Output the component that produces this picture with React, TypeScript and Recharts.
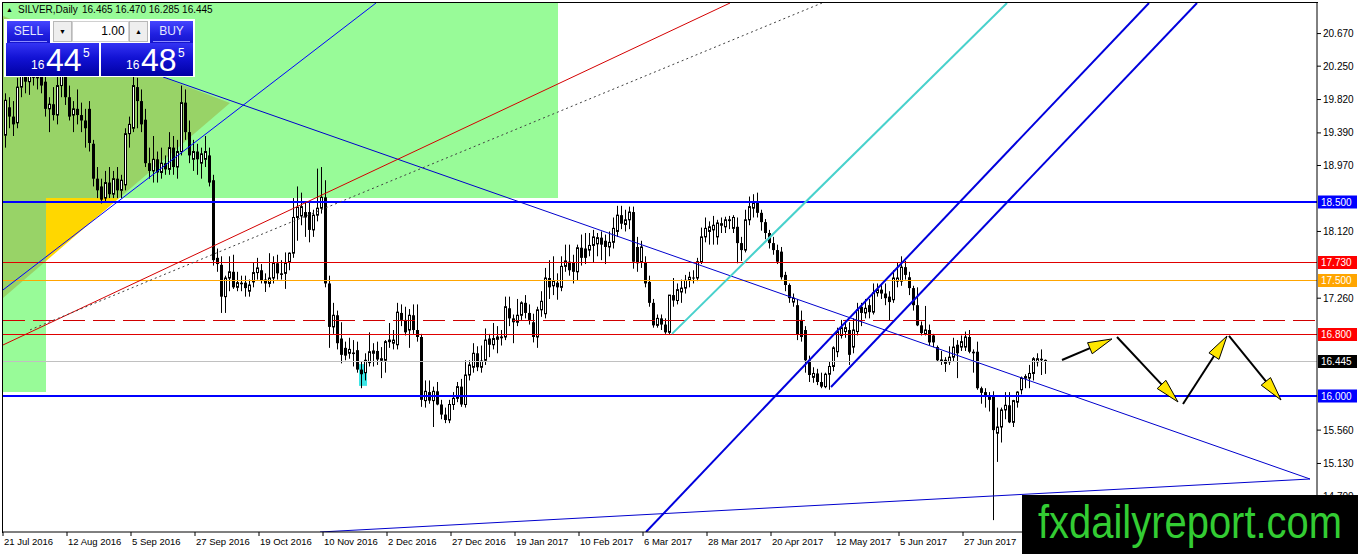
import React from 'react';
import { ComposedChart, Bar, XAxis, YAxis, ReferenceLine, ReferenceArea } from 'recharts';

// ---------- candle data (SILVER daily) ----------
const OPEN = [
  19.36,19.72,19.60,19.52,19.98,20.20,20.05,20.25,20.10,20.20,
  20.05,19.70,19.76,19.62,20.00,20.15,19.85,19.62,19.70,19.62,
  19.55,19.70,19.25,18.80,18.70,18.55,18.75,18.60,18.80,18.65,
  18.72,19.38,19.45,19.98,19.80,19.56,19.00,18.90,19.05,18.88,
  19.00,18.92,19.20,18.95,19.15,19.78,19.40,19.05,19.15,19.00,
  19.05,19.10,18.78,17.78,17.69,17.28,17.52,17.60,17.40,17.46,
  17.46,17.35,17.47,17.59,17.62,17.50,17.45,17.52,17.71,17.58,
  17.58,17.72,17.84,18.30,18.32,18.37,18.37,18.14,18.33,18.42,
  18.56,17.45,16.89,17.04,16.74,16.62,16.55,16.56,16.59,16.34,
  16.30,16.43,16.55,16.58,16.46,16.46,16.70,16.68,16.66,17.07,
  16.98,16.85,17.04,16.85,16.76,15.94,16.05,15.94,16.06,15.89,
  15.76,15.69,15.89,15.97,16.12,15.89,16.27,16.37,16.55,16.37,
  16.46,16.74,16.66,16.73,16.75,16.76,17.13,17.00,16.95,17.04,
  17.20,17.07,16.95,16.76,17.11,17.06,17.52,17.42,17.46,17.40,
  17.67,17.73,17.72,17.60,17.91,17.90,17.88,17.94,17.96,18.04,
  18.00,17.92,17.98,18.12,18.33,18.21,18.27,18.37,17.92,17.72,
  17.72,17.47,17.20,16.91,17.00,16.92,16.82,17.30,17.23,17.34,
  17.39,17.49,17.52,17.52,17.73,18.05,18.12,18.14,18.05,18.20,
  18.18,18.26,18.16,18.18,17.97,17.88,18.27,18.42,18.49,18.36,
  18.24,18.10,17.97,17.88,17.86,17.56,17.43,17.21,17.17,16.98,
  16.85,16.46,16.24,16.29,16.18,16.12,16.28,16.38,16.57,16.78,
  16.83,16.85,16.63,16.83,17.15,17.07,17.17,17.08,17.33,17.37,
  17.32,17.28,17.24,17.48,17.48,17.66,17.53,17.39,17.17,16.91,
  16.80,16.85,16.78,16.63,16.47,16.42,16.44,16.50,16.66,16.63,
  16.63,16.76,16.57,16.57,16.10,16.05,16.00,16.00,15.52,15.60,
  15.82,15.88,15.66,15.92,16.08,16.23,16.23,16.29,16.44,16.48,
  16.465,
];
const HIGH = [
  19.90,19.85,19.80,20.10,20.40,20.45,20.35,20.50,20.30,20.45,
  20.30,19.85,19.98,20.20,20.30,20.35,20.00,19.80,19.95,19.78,
  19.70,19.80,19.30,18.95,18.80,18.90,18.95,18.90,18.95,18.85,
  19.45,19.60,20.20,20.10,19.95,19.70,19.20,19.35,19.15,19.20,
  19.10,19.40,19.35,19.30,20.00,19.95,19.55,19.30,19.25,19.20,
  19.35,19.20,18.85,17.90,17.80,17.55,17.80,17.82,17.60,17.55,
  17.55,17.50,17.72,17.78,17.70,17.58,17.84,17.80,17.82,17.75,
  17.85,17.85,18.55,18.70,18.62,18.50,18.50,18.40,18.93,18.95,
  18.78,17.55,17.20,17.10,16.95,16.70,16.75,16.72,16.70,16.45,
  16.55,16.82,16.68,16.70,16.63,16.72,16.94,16.85,17.20,17.18,
  17.15,17.12,17.18,17.18,16.80,16.20,16.20,16.12,16.18,15.95,
  15.85,15.95,16.05,16.18,16.22,16.46,16.46,16.68,16.64,16.65,
  16.87,16.80,16.94,16.90,16.85,17.28,17.28,17.05,17.25,17.22,
  17.30,17.18,17.06,17.15,17.35,17.65,17.75,17.80,17.58,17.80,
  17.95,17.95,17.82,17.95,18.08,18.10,18.10,18.14,18.10,18.12,
  18.08,18.12,18.30,18.45,18.45,18.40,18.44,18.44,18.05,18.00,
  17.80,17.55,17.25,17.05,17.05,17.00,17.30,17.52,17.45,17.50,
  17.56,17.60,17.62,17.78,18.17,18.30,18.25,18.32,18.27,18.30,
  18.31,18.32,18.33,18.30,18.05,18.40,18.57,18.60,18.62,18.40,
  18.28,18.14,18.05,17.95,17.92,17.60,17.45,17.32,17.25,17.10,
  16.90,16.52,16.37,16.35,16.30,16.30,16.45,16.64,16.88,16.98,
  16.98,16.95,17.00,17.20,17.20,17.25,17.25,17.45,17.45,17.45,
  17.45,17.35,17.62,17.72,17.80,17.74,17.60,17.42,17.40,16.96,
  17.16,16.92,16.80,16.65,16.58,16.50,16.64,16.75,16.72,16.78,
  16.83,16.85,16.60,16.70,16.12,16.10,16.05,16.06,15.85,15.85,
  16.05,16.05,15.95,16.06,16.25,16.28,16.40,16.50,16.55,16.60,
  16.47,
];
const LOW = [
  19.20,19.45,19.35,19.45,19.85,19.90,19.88,20.00,19.95,19.90,
  19.60,19.40,19.55,19.50,19.85,19.75,19.55,19.40,19.50,19.40,
  19.20,19.15,18.70,18.55,18.48,18.50,18.55,18.55,18.55,18.55,
  18.65,19.20,19.40,19.45,19.40,18.95,18.80,18.75,18.75,18.80,
  18.85,18.85,18.85,18.80,19.10,19.30,19.00,18.90,18.85,18.80,
  18.95,18.70,17.68,17.60,17.07,17.07,17.35,17.38,17.35,17.35,
  17.28,17.28,17.40,17.50,17.45,17.34,17.40,17.45,17.50,17.50,
  17.38,17.62,17.78,18.00,18.20,18.05,17.98,18.05,18.25,18.35,
  17.40,16.62,16.80,16.60,16.42,16.46,16.48,16.38,16.30,16.10,
  16.20,16.38,16.38,16.40,16.23,16.30,16.62,16.60,16.60,16.90,
  16.78,16.62,16.80,16.70,15.86,15.85,15.90,15.60,15.88,15.70,
  15.65,15.65,15.82,15.92,15.86,15.85,16.20,16.30,16.32,16.30,
  16.40,16.50,16.60,16.55,16.65,16.72,16.90,16.68,16.90,16.98,
  17.00,16.92,16.69,16.62,17.02,17.00,17.25,17.30,17.24,17.35,
  17.60,17.55,17.45,17.49,17.68,17.70,17.80,17.72,17.80,17.75,
  17.70,17.80,17.90,18.05,18.15,18.12,18.15,17.64,17.60,17.65,
  17.40,17.15,16.88,16.88,16.85,16.80,16.79,17.15,17.18,17.20,
  17.32,17.40,17.45,17.48,17.70,17.98,17.95,17.95,17.95,18.10,
  18.10,18.15,18.10,17.71,17.74,17.85,18.20,18.30,18.30,18.13,
  18.02,17.90,17.82,17.70,17.50,17.35,17.20,17.15,16.72,16.70,
  16.30,16.18,16.17,16.14,16.10,16.10,16.08,16.32,16.50,16.74,
  16.75,16.40,16.55,16.78,16.90,17.00,17.00,17.05,17.28,17.25,
  17.17,16.97,17.20,17.40,17.42,17.50,17.30,17.10,16.90,16.78,
  16.78,16.65,16.63,16.44,16.40,16.31,16.40,16.45,16.23,16.58,
  16.58,16.55,16.30,16.08,15.90,15.85,15.80,14.40,15.15,15.40,
  15.70,15.65,15.60,15.85,16.02,16.10,16.10,16.20,16.38,16.27,
  16.285,
];
const CLOSE = [
  19.81,19.60,19.50,19.98,20.20,20.05,20.25,20.10,20.20,20.00,
  19.70,19.76,19.62,20.00,20.15,19.85,19.60,19.70,19.62,19.55,
  19.45,19.26,18.80,18.65,18.53,18.75,18.60,18.80,18.65,18.78,
  19.38,19.50,20.00,19.80,19.50,19.00,18.90,19.05,18.88,19.00,
  18.92,19.20,18.95,19.15,19.78,19.40,19.10,19.15,19.05,19.12,
  19.15,18.75,17.75,17.70,17.28,17.52,17.60,17.40,17.46,17.44,
  17.39,17.43,17.59,17.65,17.49,17.45,17.52,17.71,17.58,17.56,
  17.71,17.84,18.30,18.43,18.44,18.30,18.14,18.33,18.42,18.56,
  17.45,16.89,17.04,16.68,16.53,16.52,16.60,16.54,16.34,16.28,
  16.46,16.57,16.58,16.47,16.48,16.70,16.72,16.72,17.08,16.98,
  16.82,17.04,16.85,16.76,15.95,16.06,15.94,16.06,15.89,15.76,
  15.69,15.89,15.97,16.12,15.89,16.27,16.40,16.55,16.37,16.45,
  16.72,16.66,16.74,16.76,16.76,17.15,17.00,16.95,17.04,17.20,
  17.07,16.98,16.76,17.11,17.22,17.52,17.40,17.48,17.40,17.67,
  17.74,17.62,17.60,17.91,17.78,17.78,17.94,18.05,18.04,17.95,
  17.92,17.98,18.16,18.33,18.22,18.27,18.37,17.73,17.71,17.92,
  17.45,17.20,16.91,17.00,16.92,16.82,17.30,17.23,17.37,17.39,
  17.49,17.53,17.52,17.73,18.05,18.16,18.18,18.20,18.23,18.22,
  18.27,18.27,18.30,17.97,17.88,18.27,18.44,18.49,18.36,18.24,
  18.10,17.97,17.88,17.73,17.53,17.43,17.26,17.26,16.79,16.76,
  16.46,16.27,16.29,16.18,16.12,16.28,16.38,16.62,16.83,16.88,
  16.88,16.53,16.85,17.11,17.07,17.13,17.08,17.33,17.37,17.32,
  17.26,17.21,17.52,17.52,17.66,17.56,17.39,17.17,16.91,16.81,
  16.85,16.69,16.69,16.46,16.44,16.46,16.50,16.63,16.55,16.70,
  16.76,16.57,16.55,16.10,16.04,15.99,15.95,15.56,15.60,15.82,
  15.88,15.66,15.94,16.05,16.23,16.25,16.29,16.48,16.48,16.46,
  16.445,
];

// ---------- axes ----------
const DATE_LABELS = [
  '21 Jul 2016', '12 Aug 2016', '5 Sep 2016', '27 Sep 2016', '19 Oct 2016', '10 Nov 2016',
  '2 Dec 2016', '27 Dec 2016', '19 Jan 2017', '10 Feb 2017', '6 Mar 2017', '28 Mar 2017',
  '20 Apr 2017', '12 May 2017', '5 Jun 2017', '27 Jun 2017',
];
const DATE_TICK_INDEX = [-0.5, 15.5, 31.5, 47.5, 63.5, 79.5, 95.5, 111.5, 127.5, 143.5, 159.5, 175.5, 191.5, 207.5, 223.5, 239.5];
const PRICE_TICKS = [20.67, 20.25, 19.82, 19.39, 18.97, 18.12, 17.26, 15.56, 15.13, 14.7];
const PRICE_DOMAIN = [14.247, 21.064];
const INDEX_DOMAIN = [-0.5, 328];

// ---------- horizontal levels ----------
const LEVEL_PRICES = [18.5, 17.73, 17.5, 16.98, 16.8, 16.445, 16.0];
const LEVEL_TAGS = ['18.500', '17.730', '17.500', '', '16.800', '16.445', '16.000'];

// ---------- trendlines (bar index, price) ----------
const RISING_THIN = [{ x: -0.5, y: 17.366 }, { x: 92.75, y: 21.064 }];
const FALLING_THIN = [{ x: 39.5, y: 20.111 }, { x: 326.25, y: 14.93 }];
const BASE_THIN = [{ x: 78.75, y: 14.247 }, { x: 326.25, y: 14.93 }];
const RED_TREND = [{ x: -0.5, y: 16.657 }, { x: 181.25, y: 21.064 }];
const DOTTED_TREND = [{ x: 6.25, y: 16.851 }, { x: 204.25, y: 21.064 }];
const CYAN_TREND = [{ x: 166.75, y: 16.8 }, { x: 250.5, y: 21.064 }];
const CHANNEL_UPPER = [{ x: 160.25, y: 14.247 }, { x: 286, y: 21.064 }];
const CHANNEL_LOWER = [{ x: 206.5, y: 16.116 }, { x: 298, y: 21.064 }];
const ZIGZAG = [
  [{ x: 264.25, y: 16.464 }, { x: 276.75, y: 16.735 }],
  [{ x: 278, y: 16.76 }, { x: 293.25, y: 15.923 }],
  [{ x: 294.5, y: 15.897 }, { x: 305.5, y: 16.773 }],
  [{ x: 306, y: 16.773 }, { x: 319, y: 15.948 }],
];

// ---------- shaded zones ----------
const GREEN_BOX = { x1: -0.5, x2: 138.25, y1: 18.55, y2: 21.064 };
const GREEN_STRIP = { x1: -0.5, x2: 10.25, y1: 16.05, y2: 18.55 };
const CYAN_BOX = { x1: 88.5, x2: 90.5, y1: 16.13, y2: 16.41 };
const TRIANGLE_IN_BOX = [[-0.5, 20.897], [56.25, 19.776], [28.56, 18.55], [-0.5, 18.55]];
const TRIANGLE_IN_STRIP = [[-0.5, 18.55], [10.25, 18.55], [10.25, 17.739], [-0.5, 17.263]];
const TRIANGLE_OUTSIDE = [[10.25, 18.55], [28.56, 18.55], [10.25, 17.739]];

const data = OPEN.map((o, i) => ({
  i, o, h: HIGH[i], l: LOW[i], c: CLOSE[i], range: [LOW[i], HIGH[i]],
}));

const W = 1358;
const H = 554;
const YAXIS_W = 41;
const XAXIS_H = 22;
const PLOT_R = W - YAXIS_W;
const PLOT_B = H - XAXIS_H;
const FONT = '"Liberation Sans", Arial, sans-serif';

const Candle = (props: any) => {
  const { x, y, width, height, payload } = props;
  if (!payload || x == null) return null;
  const top = height < 0 ? y + height : y;
  const hh = Math.abs(height);
  const { o, h, l, c } = payload;
  const span = h - l || 1;
  const py = (v: number) => top + ((h - v) / span) * hh;
  const cx = Math.round(x + width / 2) + 0.5;
  const bTop = py(Math.max(o, c));
  const bBot = py(Math.min(o, c));
  const bull = c >= o;
  return (
    <g>
      <line x1={cx} x2={cx} y1={top} y2={top + hh} stroke="#000" strokeWidth={1} />
      {bull ? (
        <rect x={cx - 1} y={bTop} width={2} height={Math.max(bBot - bTop, 0.01)} fill="#fff" stroke="#000" strokeWidth={1} />
      ) : (
        <rect x={cx - 1.5} y={bTop} width={3} height={Math.max(bBot - bTop, 1)} fill="#000" />
      )}
    </g>
  );
};

const XTick = (props: any) => {
  const { x, payload } = props;
  const k = Math.round((payload.value + 0.5) / 16);
  return (
    <g>
      <line x1={x} x2={x} y1={PLOT_B} y2={PLOT_B + 4} stroke="#000" />
      <text x={x + 1} y={PLOT_B + 13} fontSize={9.5} fontFamily={FONT} fill="#000">{DATE_LABELS[k]}</text>
    </g>
  );
};

const YTick = (props: any) => {
  const { y, payload } = props;
  return (
    <g>
      <line x1={PLOT_R} x2={PLOT_R + 4} y1={y} y2={y} stroke="#000" />
      <text x={PLOT_R + 6} y={y + 3.5} fontSize={10} fontFamily={FONT} fill="#000">{Number(payload.value).toFixed(3)}</text>
    </g>
  );
};

const LEVEL_STYLE = [
  { stroke: '#0000FF', width: 2, dash: undefined, tag: '#0000FF' },
  { stroke: '#E00000', width: 1, dash: undefined, tag: '#FF0000' },
  { stroke: '#FFA500', width: 1, dash: undefined, tag: '#FFA500' },
  { stroke: '#D00000', width: 1, dash: '22 8', tag: '' },
  { stroke: '#E00000', width: 1, dash: undefined, tag: '#FF0000' },
  { stroke: '#C0C0C0', width: 1, dash: undefined, tag: '#000000' },
  { stroke: '#0000FF', width: 2, dash: undefined, tag: '#0000FF' },
];

const levelShape = (k: number) => (p: any) => {
  const st = LEVEL_STYLE[k];
  const yy = Math.round(p.y1) + (st.width === 1 ? 0.5 : 0);
  const xl = Math.min(p.x1, p.x2);
  const xr = Math.max(p.x1, p.x2);
  return (
    <g>
      <line x1={xl} x2={xr} y1={yy} y2={yy} stroke={st.stroke} strokeWidth={st.width} strokeDasharray={st.dash} />
      {LEVEL_TAGS[k] ? (
        <g>
          <rect x={xr + 1} y={yy - 6.5} width={39} height={13} fill={st.tag} />
          <text x={xr + 4} y={yy + 3.8} fontSize={10} fontFamily={FONT} fill="#fff">{LEVEL_TAGS[k]}</text>
        </g>
      ) : null}
    </g>
  );
};

const ArrowShape = (props: any) => {
  const { x1, y1, x2, y2 } = props;
  const dx = x2 - x1;
  const dy = y2 - y1;
  const len = Math.hypot(dx, dy) || 1;
  const ux = dx / len;
  const uy = dy / len;
  const L = 24;
  const Wd = 6;
  const bx = x2 - ux * L;
  const by = y2 - uy * L;
  const pts = `${x2},${y2} ${bx - uy * Wd},${by + ux * Wd} ${bx + uy * Wd},${by - ux * Wd}`;
  return (
    <g>
      <line x1={x1} y1={y1} x2={bx + ux * 4} y2={by + uy * 4} stroke="#000" strokeWidth={2} />
      <polygon points={pts} fill="#FFE600" stroke="#000" strokeWidth={1} />
    </g>
  );
};

const polygonArea = (key: string, pts: number[][], fill: string) => {
  const xs = pts.map((p) => p[0]);
  const ys = pts.map((p) => p[1]);
  const x1 = Math.min(...xs);
  const x2 = Math.max(...xs);
  const y1 = Math.min(...ys);
  const y2 = Math.max(...ys);
  return (
    <ReferenceArea
      key={key}
      x1={x1}
      x2={x2}
      y1={y1}
      y2={y2}
      ifOverflow="visible"
      shape={(p: any) => {
        const { x, y, width, height } = p;
        const s = pts
          .map(([a, b]) => `${x + ((a - x1) / (x2 - x1)) * width},${y + ((y2 - b) / (y2 - y1)) * height}`)
          .join(' ');
        return <polygon points={s} fill={fill} stroke="none" />;
      }}
    />
  );
};

const priceBox = (left: number, big: string) => (
  <div style={{ position: 'absolute', left, top: 43, width: left < 50 ? 93 : 92, height: 33, background: 'linear-gradient(180deg,#3434f4 0%,#1212d4 45%,#0000a4 100%)' }}>
    <span style={{ position: 'absolute', left: 25, top: 16, fontSize: 12, lineHeight: '12px', color: '#fff' }}>16</span>
    <span style={{ position: 'absolute', left: 40, top: 1, fontSize: 32, lineHeight: '32px', color: '#fff' }}>{big}</span>
    <span style={{ position: 'absolute', left: 77, top: 4, fontSize: 12, lineHeight: '12px', color: '#fff' }}>5</span>
  </div>
);

const btn = (left: number, label: string) => (
  <div style={{ position: 'absolute', left, top: 21, width: 43, height: 22, background: 'linear-gradient(180deg,#4646ff 0%,#2020e0 60%,#1414cc 100%)' }}>
    <div style={{ position: 'absolute', left: 0, top: 2, width: 43, height: 16, textAlign: 'center', fontSize: 12, lineHeight: '16px', color: '#e4e8ff' }}>{label}</div>
    <div style={{ position: 'absolute', left: 3, top: 20, width: 37, height: 1, background: '#8c8cff' }} />
  </div>
);

export default function App() {
  return (
    <div style={{ position: 'relative', width: W, height: H, background: '#fff', overflow: 'hidden', fontFamily: FONT }}>
      <style>{'body{margin:0;}'}</style>
      <ComposedChart width={W} height={H} data={data} margin={{ top: 3, right: 0, bottom: 0, left: 3 }}>
        <XAxis
          dataKey="i"
          type="number"
          domain={INDEX_DOMAIN}
          allowDataOverflow
          ticks={DATE_TICK_INDEX}
          interval={0}
          height={XAXIS_H}
          axisLine={{ stroke: '#000' }}
          tickLine={false}
          tick={(p: any) => <XTick {...p} />}
        />
        <YAxis
          orientation="right"
          type="number"
          domain={PRICE_DOMAIN}
          allowDataOverflow
          ticks={PRICE_TICKS}
          interval={0}
          width={YAXIS_W}
          axisLine={{ stroke: '#000' }}
          tickLine={false}
          tick={(p: any) => <YTick {...p} />}
        />
        <ReferenceArea {...GREEN_BOX} fill="#98FB98" fillOpacity={1} stroke="none" ifOverflow="visible" />
        <ReferenceArea {...GREEN_STRIP} fill="#98FB98" fillOpacity={1} stroke="none" ifOverflow="visible" />
        {polygonArea('t1', TRIANGLE_IN_BOX, '#98D367')}
        {polygonArea('t2', TRIANGLE_IN_STRIP, '#98D367')}
        {polygonArea('t3', TRIANGLE_OUTSIDE, '#FFD700')}
        <ReferenceArea {...CYAN_BOX} fill="#3CE6E6" fillOpacity={1} stroke="none" ifOverflow="visible" />
        <Bar dataKey="range" barSize={3} isAnimationActive={false} shape={(p: any) => <Candle {...p} />} />
        {LEVEL_PRICES.map((p, k) => (
          <ReferenceLine key={'lv' + k} y={p} stroke="none" shape={levelShape(k)} />
        ))}
        <ReferenceLine segment={RISING_THIN} stroke="#0000FF" strokeWidth={1} ifOverflow="hidden" />
        <ReferenceLine segment={FALLING_THIN} stroke="#0000CD" strokeWidth={1} ifOverflow="hidden" />
        <ReferenceLine segment={BASE_THIN} stroke="#0000CD" strokeWidth={1} ifOverflow="hidden" />
        <ReferenceLine segment={RED_TREND} stroke="#D40000" strokeWidth={1} ifOverflow="hidden" />
        <ReferenceLine segment={DOTTED_TREND} stroke="#404040" strokeWidth={1} strokeDasharray="2 3" ifOverflow="hidden" />
        <ReferenceLine segment={CYAN_TREND} stroke="#48D1CC" strokeWidth={2} ifOverflow="hidden" />
        <ReferenceLine segment={CHANNEL_UPPER} stroke="#0000DD" strokeWidth={2} ifOverflow="hidden" />
        <ReferenceLine segment={CHANNEL_LOWER} stroke="#0000DD" strokeWidth={2} ifOverflow="hidden" />
        {ZIGZAG.map((seg, k) => (
          <ReferenceLine key={'zz' + k} segment={seg} stroke="#000" ifOverflow="visible" shape={(p: any) => <ArrowShape {...p} />} />
        ))}
      </ComposedChart>

      {/* chart frame */}
      <div style={{ position: 'absolute', left: 2, top: 2, width: PLOT_R - 2, height: PLOT_B - 2, borderTop: '1px solid #000', borderLeft: '1px solid #000', pointerEvents: 'none' }} />

      {/* header */}
      <span style={{ position: 'absolute', left: 6, top: 6, fontSize: 7, lineHeight: '7px', color: '#000' }}>▲</span>
      <span style={{ position: 'absolute', left: 18, top: 4, fontSize: 10, lineHeight: '11px', color: '#000', whiteSpace: 'pre' }}>SILVER,Daily</span>
      <span style={{ position: 'absolute', left: 82, top: 4, fontSize: 10, lineHeight: '11px', color: '#000', whiteSpace: 'pre' }}>16.465 16.470 16.285 16.445</span>

      {/* one-click trading panel */}
      <div style={{ position: 'absolute', left: 4, top: 19, width: 191, height: 58, background: '#fff' }} />
      {btn(7, 'SELL')}
      {btn(150, 'BUY')}
      <div style={{ position: 'absolute', left: 53, top: 21, width: 17, height: 19, background: '#eeeeee', border: '1px solid #b8b8b8', fontSize: 7, lineHeight: '19px', textAlign: 'center', color: '#000' }}>▼</div>
      <div style={{ position: 'absolute', left: 72, top: 21, width: 55, height: 19, background: '#fff', border: '1px solid #d0d0d0', fontSize: 12, lineHeight: '19px', textAlign: 'right', paddingRight: 0, color: '#000' }}>1.00&nbsp;</div>
      <div style={{ position: 'absolute', left: 129, top: 21, width: 17, height: 19, background: '#eeeeee', border: '1px solid #b8b8b8', fontSize: 7, lineHeight: '19px', textAlign: 'center', color: '#000' }}>▲</div>
      {priceBox(6, '44')}
      {priceBox(101, '48')}

      {/* watermark */}
      <svg style={{ position: 'absolute', left: 1022, top: 495 }} width={336} height={59}>
        <rect x={0} y={0} width={336} height={59} fill="#000" />
        <text x={16} y={43} fontSize={46} fontFamily={FONT} fill="#33CC33" textLength={304} lengthAdjust="spacingAndGlyphs">fxdailyreport.com</text>
      </svg>
    </div>
  );
}
